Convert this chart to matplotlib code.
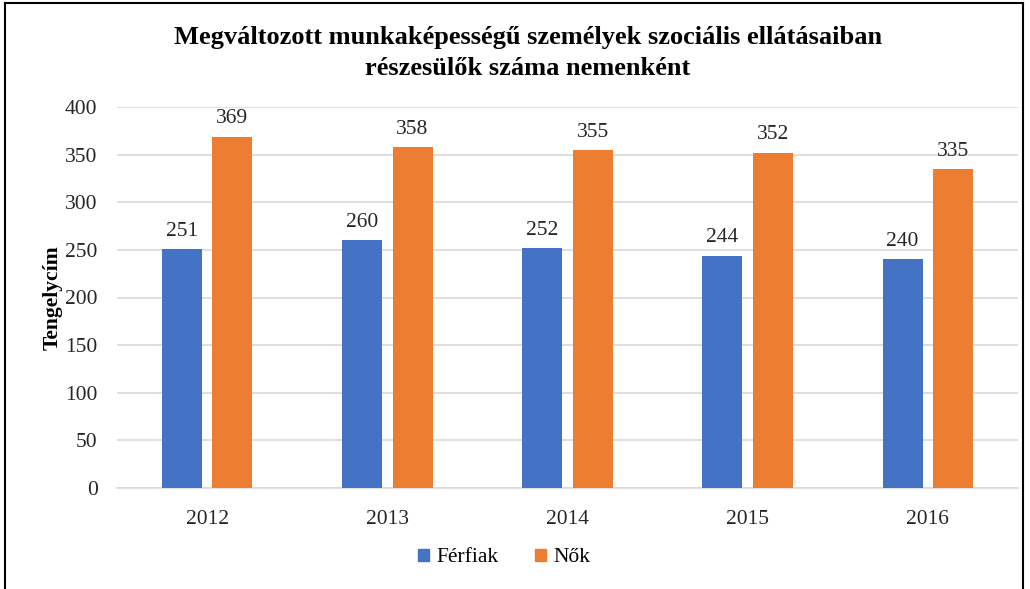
import matplotlib
matplotlib.use("Agg")
import matplotlib.pyplot as plt
import numpy as np
from matplotlib.patches import Patch

years = ["2012", "2013", "2014", "2015", "2016"]
ferfiak = [251, 260, 252, 244, 240]
nok = [369, 358, 355, 352, 335]
series_names = ["Férfiak", "Nők"]
title = "Megváltozott munkaképességű személyek szociális ellátásaiban\nrészesülők száma nemenként"
ylabel = "Tengelycím"

plt.rcParams['font.family'] = ['Liberation Serif', 'DejaVu Serif']

W, H = 1030, 589
fig = plt.figure(figsize=(W/100, H/100), dpi=100)
ax = fig.add_axes([117/W, 1-488/H, (1018-117)/W, (488-107)/H])

x = np.arange(len(years))
bw = 0.222
off = 0.14
blue = "#4472C4"
orange = "#ED7D31"
fs = 15.5
b1 = ax.bar(x - off, ferfiak, bw, color=blue, zorder=3)
b2 = ax.bar(x + off, nok, bw, color=orange, zorder=3)

for bars, vals in ((b1, ferfiak), (b2, nok)):
    for rect, v in zip(bars, vals):
        ax.annotate(str(v), (rect.get_x() + rect.get_width()/2, v),
                    xytext=(0, 6), textcoords="offset points",
                    ha="center", va="bottom", fontsize=fs, color="#262626")

ax.set_xlim(-0.5, len(years) - 0.5)
ax.set_ylim(0, 400)
ax.set_yticks(range(0, 401, 50))
ax.set_xticks(x)
ax.set_xticklabels(years)
ax.tick_params(axis="both", length=0, labelsize=fs, labelcolor="#262626")
ax.tick_params(axis="x", pad=16)
ax.tick_params(axis="y", pad=14)
ax.yaxis.grid(True, color="#D9D9D9", linewidth=1.2, zorder=0)
for s in ["top", "right", "left"]:
    ax.spines[s].set_visible(False)
ax.spines["bottom"].set_color("#D9D9D9")
ax.spines["bottom"].set_linewidth(1.2)

ax.set_ylabel(ylabel, fontsize=fs, fontweight="bold", labelpad=2)

fig.text(528/W, 1-53/H, title, ha="center", va="center", fontsize=19,
         fontweight="bold", linespacing=1.4)

handles = [Patch(color=blue), Patch(color=orange)]
fig.legend(handles, series_names, loc="center", bbox_to_anchor=(504/W, 1-558/H),
           ncol=2, frameon=False, fontsize=fs, handlelength=0.5, handleheight=0.5,
           columnspacing=1.7, handletextpad=0.35)

# figure border
fig.add_artist(plt.Line2D([5/W, 5/W], [0, 1-3/H], color="black", lw=1.5, transform=fig.transFigure))
fig.add_artist(plt.Line2D([5/W, 1023/W], [1-3/H, 1-3/H], color="black", lw=1.5, transform=fig.transFigure))
fig.add_artist(plt.Line2D([1023/W, 1023/W], [0, 1-3/H], color="black", lw=1.5, transform=fig.transFigure))

fig.savefig("out.png", dpi=100)
